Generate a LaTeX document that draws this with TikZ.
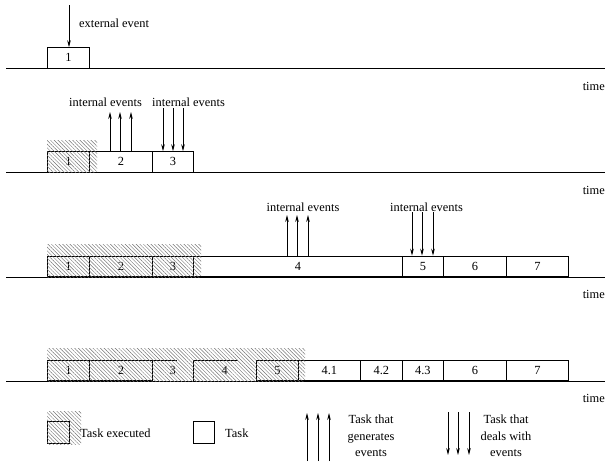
\documentclass[tikz,border=0pt]{standalone}
\usepackage{fontspec}
\setmainfont{Liberation Serif}
\usetikzlibrary{patterns.meta,arrows.meta}
\begin{document}
\begin{tikzpicture}[x=1pt,y=-1pt,
  txt/.style={font=\fontsize{12.4}{16.5}\selectfont, inner sep=0pt},
  task/.style={txt, draw, line width=0.8pt, minimum height=20.5pt, anchor=south west},
  ghost/.style={txt, minimum height=20.5pt, anchor=south west},
  boxline/.style={line width=0.8pt},
  tline/.style={line width=0.8pt},
  evt/.style={line width=0.8pt, -{Stealth[length=7pt,width=3.6pt]}},
  hatch/.style={pattern={Lines[angle=-45,distance=2.6pt,line width=0.45pt]}, pattern color=black!55},
  lbl/.style={txt},
  timelbl/.style={txt, anchor=east}
]
\useasboundingbox (0,0) rectangle (605,461);

% ---------- row 1 ----------
\coordinate (l1s) at (6,68.5); \coordinate (l1e) at (605,68.5);
\draw[tline] (l1s) -- (l1e);
\node[task, minimum width=42pt] (a1) at (47,68.5) {1};
\coordinate (e1) at (69,5);
\draw[evt] (e1) -- (e1 |- a1.north);
\node[lbl, anchor=west] (ext) at (79,23) {external event};
\node[timelbl] (t1) at (605,86) {time};

% ---------- row 2 ----------
\coordinate (l2s) at (6,172.5); \coordinate (l2e) at (605,172.5);
\draw[tline] (l2s) -- (l2e);
\node[task, minimum width=42pt] (b1) at (47,172.5) {1};
\node[task, minimum width=63pt] (b2) at (89,172.5) {2};
\node[task, minimum width=41pt] (b3) at (152,172.5) {3};
\fill[hatch] (47,140) rectangle (97,172.5);
\foreach \x [count=\i] in {110,120,131}{
  \coordinate (u2\i) at (\x,112);
  \draw[evt] (u2\i |- b2.north) -- (u2\i);
}
\foreach \x [count=\i] in {163,173,183}{
  \coordinate (d2\i) at (\x,108);
  \draw[evt] (d2\i) -- (d2\i |- b3.north);
}
\node[lbl] (i21) at (105.5,102) {internal events};
\node[lbl] (i22) at (188.5,102) {internal events};
\node[timelbl] (t2) at (605,190) {time};

% ---------- row 3 ----------
\coordinate (l3s) at (6,277); \coordinate (l3e) at (605,277);
\draw[tline] (l3s) -- (l3e);
\node[task, minimum width=42pt] (c1) at (47,277) {1};
\node[task, minimum width=63pt] (c2) at (89,277) {2};
\node[task, minimum width=41pt] (c3) at (152,277) {3};
\node[task, minimum width=209pt] (c4) at (193,277) {4};
\node[task, minimum width=41pt] (c5) at (402,277) {5};
\node[task, minimum width=63pt] (c6) at (443,277) {6};
\node[task, minimum width=62pt] (c7) at (506,277) {7};
\fill[hatch] (47,244) rectangle (201,277);
\foreach \x [count=\i] in {287,297,308}{
  \coordinate (u3\i) at (\x,215);
  \draw[evt] (u3\i |- c4.north) -- (u3\i);
}
\foreach \x [count=\i] in {412,422,433}{
  \coordinate (d3\i) at (\x,212);
  \draw[evt] (d3\i) -- (d3\i |- c5.north);
}
\node[lbl] (i31) at (303,207) {internal events};
\node[lbl] (i32) at (426.5,207) {internal events};
\node[timelbl] (t3) at (605,294) {time};

% ---------- row 4 ----------
\coordinate (l4s) at (6,381); \coordinate (l4e) at (605,381);
\draw[tline] (l4s) -- (l4e);
\node[task, minimum width=42pt] (f1) at (47,381) {1};
\node[task, minimum width=63pt] (f2) at (89,381) {2};
\node[ghost, minimum width=41pt] (f3) at (152,381) {3};
\node[ghost, minimum width=63pt] (f4) at (193,381) {4};
\draw[boxline] (f3.south west) -- (f3.north west) -- ++(25,0);
\draw[boxline] (f4.south west) -- (f4.north west) -- ++(45,0);
\node[task, minimum width=42pt] (f5) at (256,381) {5};
\node[task, minimum width=62pt] (f41) at (298,381) {4.1};
\node[task, minimum width=42pt] (f42) at (360,381) {4.2};
\node[task, minimum width=41pt] (f43) at (402,381) {4.3};
\node[task, minimum width=63pt] (f6) at (443,381) {6};
\node[task, minimum width=62pt] (f7) at (506,381) {7};
\fill[hatch] (47,348) rectangle (305,381);
\node[timelbl] (t4) at (605,398) {time};

% ---------- legend ----------
\node[task, minimum width=22pt, minimum height=22pt] (lx) at (47,444) {};
\fill[hatch] (47,411) rectangle (81,444);
\node[lbl, anchor=west] (lxt) at (80,433) {Task executed};
\node[task, minimum width=21pt, minimum height=22pt] (ly) at (193,444) {};
\node[lbl, anchor=west] (lyt) at (225,433) {Task};
\foreach \x [count=\i] in {307,318,329}{
  \coordinate (lu\i) at (\x,413);
  \coordinate (lub\i) at (\x,461);
  \draw[evt] (lub\i) -- (lu\i);
}
\foreach \x [count=\i] in {448,458,469}{
  \coordinate (ld\i) at (\x,412);
  \coordinate (ldb\i) at (\x,455);
  \draw[evt] (ld\i) -- (ldb\i);
}
\node[lbl, align=center] (lut) at (371,436) {Task that\\generates\\events};
\node[lbl, align=center] (ldt) at (506,436) {Task that\\deals with\\events};
\end{tikzpicture}
\end{document}
